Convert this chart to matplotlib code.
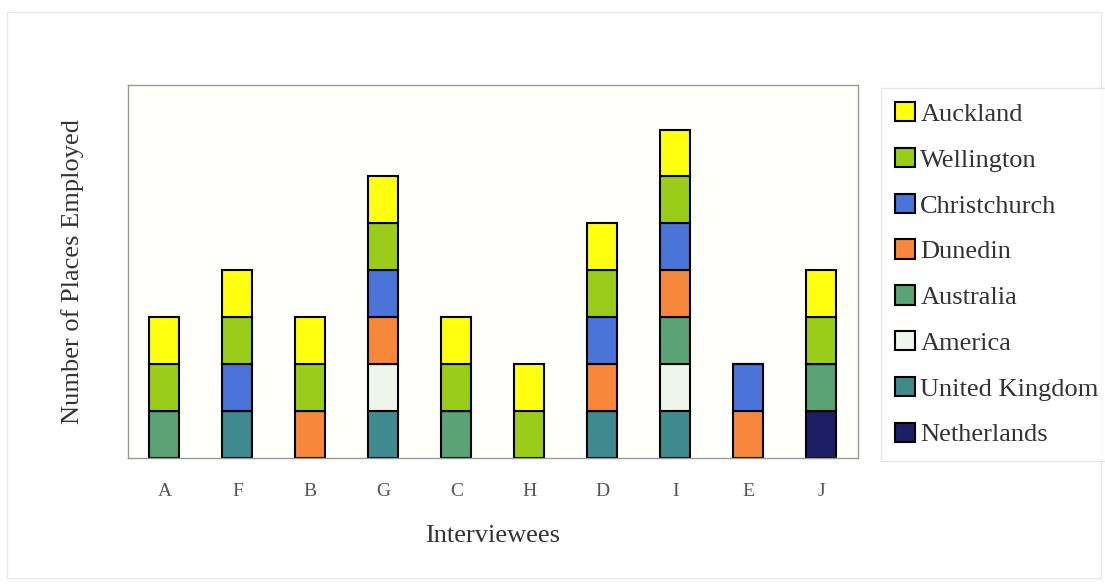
import numpy as np
import matplotlib.pyplot as plt
from matplotlib.patches import Rectangle

plt.rcParams['font.family'] = ['Liberation Serif', 'DejaVu Serif']

interviewees = ['A', 'F', 'B', 'G', 'C', 'H', 'D', 'I', 'E', 'J']

# stacking order bottom -> top
places = ['Netherlands', 'United Kingdom', 'America', 'Australia',
          'Dunedin', 'Christchurch', 'Wellington', 'Auckland']
colors = ['#1c1f66', '#3f8a8e', '#eef5ea', '#5aa374',
          '#f7873a', '#4a74d8', '#9acd1a', '#ffff10']

# counts per place, in interviewee order A F B G C H D I E J
netherlands = [0, 0, 0, 0, 0, 0, 0, 0, 0, 1]
united_kingdom = [0, 1, 0, 1, 0, 0, 1, 1, 0, 0]
america = [0, 0, 0, 1, 0, 0, 0, 1, 0, 0]
australia = [1, 0, 0, 0, 1, 0, 0, 1, 0, 1]
dunedin = [0, 0, 1, 1, 0, 0, 1, 1, 1, 0]
christchurch = [0, 1, 0, 1, 0, 0, 1, 1, 1, 0]
wellington = [1, 1, 1, 1, 1, 1, 1, 1, 0, 1]
auckland = [1, 1, 1, 1, 1, 1, 1, 1, 0, 1]

series = [netherlands, united_kingdom, america, australia,
          dunedin, christchurch, wellington, auckland]

fig = plt.figure(figsize=(11.05, 5.84), dpi=100)
fig.patches.append(Rectangle((0.006, 0.01), 0.99, 0.97, transform=fig.transFigure,
                             fill=False, edgecolor='#e8e8e8', lw=1))
ax = fig.add_axes([0.1158, 0.2158, 0.6606, 0.6387])
ax.set_facecolor('#fffffc')

x = np.arange(len(interviewees))
bottom = np.zeros(len(interviewees))
for name, col, vals in zip(places, colors, series):
    ax.bar(x, vals, 0.41, bottom=bottom, color=col, edgecolor='black',
           linewidth=1.5, label=name)
    bottom += np.array(vals)

ax.set_xlim(-0.5, len(interviewees) - 0.5)
ax.set_ylim(0, 7.95)
ax.set_yticks([])
ax.set_xticks(x)
ax.set_xticklabels(interviewees, fontsize=14, color='#555555')
ax.tick_params(axis='x', length=0, pad=18)
for s in ax.spines.values():
    s.set_color('#999999')
    s.set_linewidth(1)

ax.set_xlabel('Interviewees', fontsize=19, color='#333333', labelpad=18)
ax.set_ylabel('Number of Places Employed', fontsize=19, color='#333333', labelpad=32)

handles, labels = ax.get_legend_handles_labels()
leg = fig.legend(handles[::-1], labels[::-1], loc='upper left',
                 bbox_to_anchor=(0.797, 0.85), fontsize=19, frameon=True,
                 fancybox=False, edgecolor='#e0e0e0', handlelength=0.75,
                 handleheight=0.75, handletextpad=0.2, labelspacing=0.83,
                 borderpad=0.55, borderaxespad=0)
for t in leg.get_texts():
    t.set_color('#333333')

plt.savefig('out.png', dpi=100)
